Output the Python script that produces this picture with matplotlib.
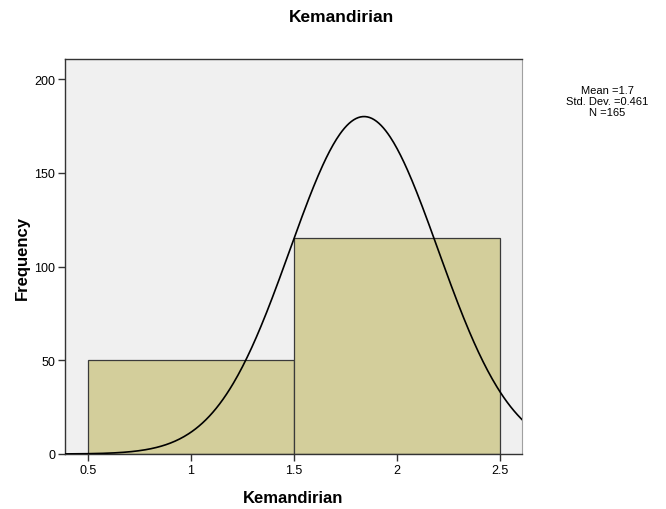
import numpy as np
import matplotlib.pyplot as plt

plt.rcParams['font.family'] = ['Liberation Sans', 'DejaVu Sans']

# histogram bins (edges) and counts
bin_edges = [0.5, 1.5, 2.5]
counts = [50, 115]

# stats shown in the legend box
mean_val = 1.7
std_val = 0.461
n_val = 165

# normal curve as drawn by SPSS (peak, centre, width)
curve_peak = 180
curve_center = 1.84
curve_width = 0.359

x_ticks = [0.5, 1, 1.5, 2, 2.5]
x_tick_labels = ['0.5', '1', '1.5', '2', '2.5']
y_ticks = [0, 50, 100, 150, 200]

fig = plt.figure(figsize=(6.66, 5.10), dpi=100)
ax = fig.add_axes([65/666, 55/510, 457/666, 395/510])
ax.set_facecolor('#f0f0f0')

widths = np.diff(bin_edges)
ax.bar(bin_edges[:-1], counts, width=widths, align='edge',
       color='#d3ce9b', edgecolor='#3a3a3a', linewidth=0.9, zorder=2)

xs = np.linspace(0.388, 2.607, 400)
ys = curve_peak * np.exp(-(xs - curve_center) ** 2 / (2 * curve_width ** 2))
ax.plot(xs, ys, color='black', linewidth=1.2, zorder=3)

ax.set_xlim(0.388, 2.607)
ax.set_ylim(0, 210.7)
ax.set_xticks(x_ticks)
ax.set_xticklabels(x_tick_labels)
ax.set_yticks(y_ticks)
ax.tick_params(axis='both', labelsize=9, length=5, width=1, color='#333333', pad=2)

for s in ['left', 'bottom', 'top']:
    ax.spines[s].set_color('#333333')
    ax.spines[s].set_linewidth(1)
ax.spines['right'].set_color('#a0a0a0')

ax.set_xlabel('Kemandirian', fontsize=12, fontweight='bold', labelpad=10)
ax.set_ylabel('Frequency', fontsize=12, fontweight='bold', labelpad=3)
fig.text(342/666, 1 - 17/510, 'Kemandirian', ha='center', va='center',
         fontsize=12.5, fontweight='bold')

fig.text(607/666, 1 - 102/510,
         'Mean =%s\nStd. Dev. =%s\nN =%d' % (mean_val, std_val, n_val),
         ha='center', va='center', fontsize=8, linespacing=1.1)

fig.savefig('out.png', dpi=100, facecolor='white')
